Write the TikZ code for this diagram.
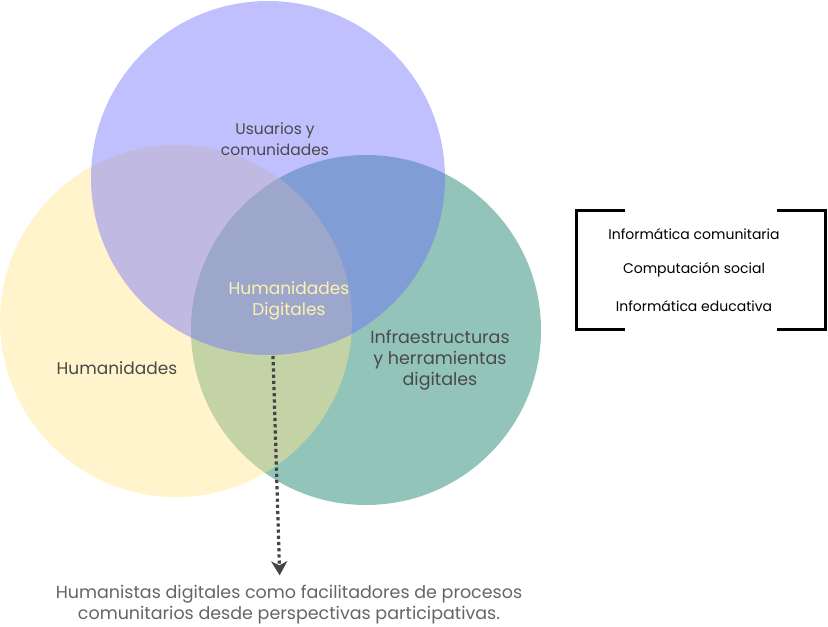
\documentclass[tikz,border=0pt]{standalone}
\usepackage{fontspec}
\setmainfont{Poppins}
\usetikzlibrary{arrows.meta}
\definecolor{cgreen}{RGB}{147,196,186}
\definecolor{cyellow}{RGB}{255,231,142}
\definecolor{cpurple}{RGB}{105,105,255}
\definecolor{ctext}{RGB}{74,74,74}
\definecolor{clight}{RGB}{255,242,176}
\definecolor{carrow}{RGB}{68,68,68}
\begin{document}
\begin{tikzpicture}[x=1pt,y=-1pt,
  setcircle/.style={circle,draw=none,inner sep=0pt},
  label/.style={text=ctext,font=\fontsize{16.5}{21}\selectfont,align=center,inner sep=0pt},
  boxtext/.style={text=black,font=\fontsize{14}{16}\selectfont,inner sep=0pt},
  bracket/.style={line width=3pt,black}]
\useasboundingbox (0,0) rectangle (828,627);
\node[setcircle,fill=cgreen,minimum size=350pt] (green) at (366,330) {};
\node[setcircle,fill=cyellow,fill opacity=0.45,minimum size=352pt] (yellow) at (176,321) {};
\node[setcircle,fill=cpurple,fill opacity=0.42,minimum size=354pt] (purple) at (268,178) {};

\node[label,font=\fontsize{15.5}{21}\selectfont] (usu) at (275,139) {Usuarios y\\comunidades};
\node[label,text=clight,font=\fontsize{17}{21}\selectfont] (hd) at (289,301) {Humanidades\\Digitales};
\node[label,font=\fontsize{17}{21}\selectfont] (hum) at (117,368) {Humanidades};
\node[label,font=\fontsize{17.5}{21}\selectfont] (inf) at (440,360) {Infraestructuras\\y herramientas\\digitales};

\node[label,text=ctext!85,font=\fontsize{17.5}{21}\selectfont] (bottom) at (289,605) {Humanistas digitales como facilitadores de procesos\\comunitarios desde perspectivas participativas.};

\coordinate (start) at (273,356);
\draw[carrow,line width=3.2pt,dash pattern=on 3.2pt off 3pt,-{Stealth[length=14pt,width=16pt,inset=4pt]},shorten >=10pt] (start) -- ([xshift=-9pt]bottom.north);

\node[boxtext] (b1) at (694,234) {Informática comunitaria};
\node[boxtext] (b2) at (694,270) {Computación social};
\node[boxtext] (b3) at (694,306) {Informática educativa};
\draw[bracket] (625,210) -- (576,210) -- (576,329) -- (625,329);
\draw[bracket] (777,210) -- (825.5,210) -- (825.5,329) -- (777,329);
\end{tikzpicture}
\end{document}
